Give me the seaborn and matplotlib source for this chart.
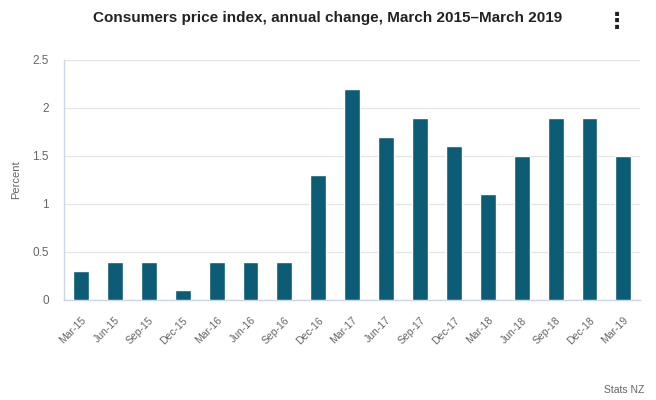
import matplotlib
matplotlib.use("Agg")
import matplotlib.pyplot as plt
import seaborn as sns
import pandas as pd

quarters = ["Mar-15", "Jun-15", "Sep-15", "Dec-15", "Mar-16", "Jun-16", "Sep-16", "Dec-16",
            "Mar-17", "Jun-17", "Sep-17", "Dec-17", "Mar-18", "Jun-18", "Sep-18", "Dec-18", "Mar-19"]
cpi_change = [0.3, 0.4, 0.4, 0.1, 0.4, 0.4, 0.4, 1.3, 2.2, 1.7, 1.9, 1.6, 1.1, 1.5, 1.9, 1.9, 1.5]
y_ticks = [0, 0.5, 1, 1.5, 2, 2.5]
y_labels = ["0", "0.5", "1", "1.5", "2", "2.5"]

df = pd.DataFrame({"quarter": quarters, "percent": cpi_change})

sns.set_style("white")
plt.rcParams["font.family"] = ["Liberation Sans", "DejaVu Sans"]

fig = plt.figure(figsize=(6.56, 4.0), dpi=100)
ax = fig.add_axes([0.0976, 0.25, 0.8785, 0.60])

sns.barplot(data=df, x="quarter", y="percent", color="#0B5C74", saturation=1,
            width=0.47, ax=ax, zorder=3)

ax.set_xlim(-0.5, len(quarters) - 0.5)
ax.set_ylim(0, 2.5)
ax.set_yticks(y_ticks)
ax.set_yticklabels(y_labels)
ax.grid(axis="y", color="#e6e6e6", linewidth=1, zorder=0)
ax.set_axisbelow(True)

for s in ["top", "right"]:
    ax.spines[s].set_visible(False)
for s in ["left", "bottom"]:
    ax.spines[s].set_color("#ccd6eb")
    ax.spines[s].set_linewidth(1)

ax.tick_params(axis="x", direction="out", length=8, color="#ccd6eb", width=1,
               labelsize=7.5, labelcolor="#666666", pad=3)
ax.tick_params(axis="y", length=0, labelsize=8.5, labelcolor="#666666", pad=11)
plt.setp(ax.get_xticklabels(), rotation=45, ha="right", rotation_mode="anchor")

ax.set_xlabel("")
ax.set_ylabel("Percent", fontsize=8, color="#666666", labelpad=8)

fig.text(0.5, 0.955, "Consumers price index, annual change, March 2015\u2013March 2019",
         ha="center", va="center", fontsize=11, fontweight="bold", color="#222222")
fig.text(0.983, 0.025, "Stats NZ", ha="right", va="center", fontsize=7.5, color="#666666")
fig.text(0.94, 0.945, "\u22ee", ha="center", va="center", fontsize=16, fontweight="bold",
         color="#222222", family=["DejaVu Sans"])

fig.savefig("out.png", dpi=100)
